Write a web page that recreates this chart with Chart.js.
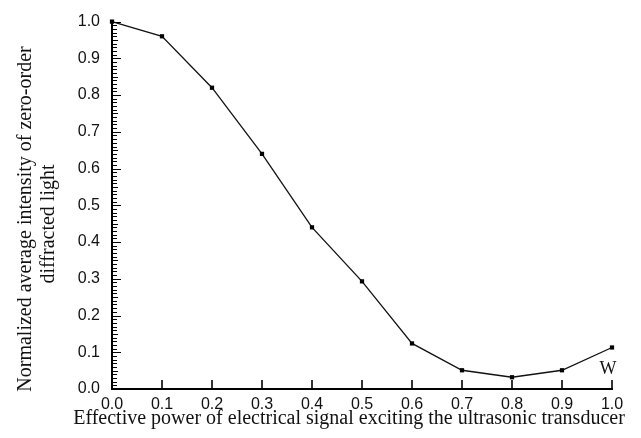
<!DOCTYPE html>
<html>
<head>
<meta charset="utf-8">
<script src="https://cdn.jsdelivr.net/npm/chart.js@4"></script>
<style>
  html, body { margin: 0; padding: 0; background: #fff; }
  #wrap { width: 641px; height: 438px; }
</style>
</head>
<body>
<div id="wrap"><canvas id="c" width="641" height="438"></canvas></div>
<script>
// power levels (x) and normalized zero-order intensity (y)
const power = [0.0, 0.1, 0.2, 0.3, 0.4, 0.5, 0.6, 0.7, 0.8, 0.9, 1.0];
const intensity = [1.0, 0.96, 0.82, 0.64, 0.44, 0.293, 0.124, 0.051, 0.032, 0.051, 0.113];
const xTicks = [0.0, 0.1, 0.2, 0.3, 0.4, 0.5, 0.6, 0.7, 0.8, 0.9, 1.0];
const yTicks = [0.0, 0.1, 0.2, 0.3, 0.4, 0.5, 0.6, 0.7, 0.8, 0.9, 1.0];
const yMinorStep = 0.01;
const xTitle = 'Effective power of electrical signal exciting the ultrasonic transducer';
const yTitle = ['Normalized average intensity of zero-order', 'diffracted light'];
const pointNote = { x: 1.0, y: 0.05, text: 'W' };

const points = power.map((p, i) => ({ x: p, y: intensity[i] }));

const serif = '"Liberation Serif", "Times New Roman", serif';
const sans = '"Liberation Sans", Arial, sans-serif';

// axis lines with inward ticks, minor ticks on y, titles and the "W" note
const decor = {
  id: 'decor',
  afterDraw(chart) {
    const ctx = chart.ctx;
    const xs = chart.scales.x, ys = chart.scales.y;
    const a = chart.chartArea;
    const left = Math.round(a.left), bottom = Math.round(a.bottom);
    ctx.save();
    ctx.setLineDash([]);
    ctx.globalAlpha = 1;
    ctx.strokeStyle = '#000';
    ctx.lineWidth = 2;
    ctx.beginPath();
    ctx.moveTo(left, a.top);
    ctx.lineTo(left, bottom);
    ctx.lineTo(a.right + 1, bottom);
    ctx.stroke();

    ctx.lineWidth = 1.6;
    for (const v of xTicks) {
      const px = Math.round(xs.getPixelForValue(v));
      ctx.beginPath();
      ctx.moveTo(px, bottom);
      ctx.lineTo(px, bottom - 9);
      ctx.stroke();
    }
    ctx.lineWidth = 1;
    const n = Math.round((ys.max - ys.min) / yMinorStep);
    for (let k = 0; k <= n; k++) {
      const py = Math.round(ys.getPixelForValue(ys.min + k * yMinorStep)) + 0.5;
      const len = k % 10 === 0 ? 9 : (k % 5 === 0 ? 6 : 5);
      ctx.beginPath();
      ctx.moveTo(left, py);
      ctx.lineTo(left + len, py);
      ctx.stroke();
    }

    ctx.fillStyle = '#111';
    ctx.font = '20px ' + serif;
    ctx.textAlign = 'center';
    ctx.textBaseline = 'alphabetic';
    ctx.fillText(xTitle, 349, 424);

    ctx.save();
    ctx.rotate(-Math.PI / 2);
    ctx.fillText(yTitle[0], -219, 31);
    ctx.fillText(yTitle[1], -224, 54);
    ctx.restore();

    ctx.font = '18px ' + serif;
    ctx.fillText(pointNote.text, xs.getPixelForValue(pointNote.x) - 4, ys.getPixelForValue(pointNote.y) + 3);
    ctx.restore();
  }
};

new Chart(document.getElementById('c'), {
  type: 'scatter',
  data: {
    datasets: [{
      data: points,
      showLine: true,
      clip: false,
      borderColor: '#111',
      borderWidth: 1.3,
      backgroundColor: '#000',
      pointStyle: 'rect',
      pointRadius: 3,
      pointBorderWidth: 0,
      tension: 0
    }]
  },
  options: {
    responsive: false,
    animation: false,
    layout: { padding: { top: 17, right: 29, left: 0, bottom: 0 } },
    plugins: { legend: { display: false }, tooltip: { enabled: false } },
    scales: {
      x: {
        type: 'linear', min: 0, max: 1,
        afterBuildTicks: s => { s.ticks = xTicks.map(v => ({ value: v })); },
        afterFit: s => { s.height = 49; },
        grid: { display: false, drawTicks: false },
        border: { display: false },
        ticks: {
          color: '#111', font: { family: sans, size: 16 }, padding: 6,
          maxRotation: 0, callback: v => v.toFixed(1)
        }
      },
      y: {
        type: 'linear', min: 0, max: 1,
        afterBuildTicks: s => { s.ticks = yTicks.map(v => ({ value: v })); },
        afterFit: s => { s.width = 112; },
        grid: { display: false, drawTicks: false },
        border: { display: false },
        ticks: {
          color: '#111', font: { family: sans, size: 16 }, padding: 12,
          callback: v => v.toFixed(1)
        }
      }
    }
  },
  plugins: [decor]
});
</script>
</body>
</html>
